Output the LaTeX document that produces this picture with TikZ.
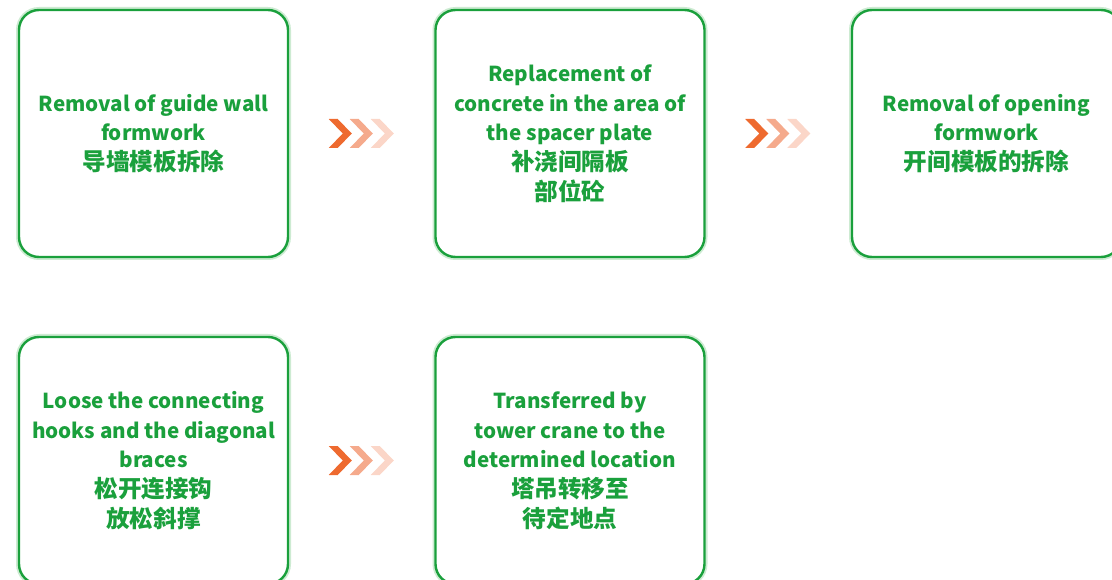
\documentclass[tikz,border=0pt]{standalone}
\usepackage{fontspec}
\setmainfont{Noto Sans CJK SC}
\usetikzlibrary{calc}
\definecolor{stepgreen}{RGB}{26,160,60}
\definecolor{glow}{RGB}{205,235,210}
\definecolor{chevA}{RGB}{238,106,47}
\definecolor{chevB}{RGB}{245,170,140}
\definecolor{chevC}{RGB}{251,214,200}
\newcommand{\cjline}[1]{{\fontsize{23.6}{29.7}\selectfont #1}}
\tikzset{
  stepbox/.style={draw=stepgreen, line width=2.4pt, rounded corners=20pt, fill=white,
    minimum width=269pt, minimum height=247pt, inner sep=0pt, align=center,
    text=stepgreen, font=\fontsize{20.6}{29.7}\selectfont\bfseries,
    preaction={draw=glow, line width=6pt, rounded corners=20pt}},
  chev/.pic={
    \fill[chevA] (-33,-14.5) -- (-24,-14.5) -- (-10,0) -- (-24,14.5) -- (-33,14.5) -- (-19,0) -- cycle;
    \fill[chevB] (-12,-14.5) -- (-3,-14.5) -- (11,0) -- (-3,14.5) -- (-12,14.5) -- (2,0) -- cycle;
    \fill[chevC] (9,-14.5) -- (18,-14.5) -- (32,0) -- (18,14.5) -- (9,14.5) -- (23,0) -- cycle;
  }
}
\begin{document}
\begin{tikzpicture}[x=1pt,y=-1pt]
\useasboundingbox (0,0) rectangle (1112,580);
\node[stepbox] (b1) at (153.5,133.5) {Removal of guide wall\\formwork\\\cjline{导墙模板拆除}};
\node[stepbox] (b2) at (570,133.5) {Replacement of\\concrete in the area of\\the spacer plate\\\cjline{补浇间隔板}\\\cjline{部位砼}};
\node[stepbox] (b3) at (986.5,133.5) {Removal of opening\\formwork\\\cjline{开间模板的拆除}};
\node[stepbox] (b4) at (153.5,460.5) {Loose the connecting\\hooks and the diagonal\\braces\\\cjline{松开连接钩}\\\cjline{放松斜撑}};
\node[stepbox] (b5) at (570,460.5) {Transferred by\\tower crane to the\\determined location\\\cjline{塔吊转移至}\\\cjline{待定地点}};
\coordinate (c1) at ($(b1.east)!0.5!(b2.west)$);
\coordinate (c2) at ($(b2.east)!0.5!(b3.west)$);
\coordinate (c3) at ($(b4.east)!0.5!(b5.west)$);
\pic at (c1) {chev};
\pic at (c2) {chev};
\pic at (c3) {chev};
\end{tikzpicture}
\end{document}
